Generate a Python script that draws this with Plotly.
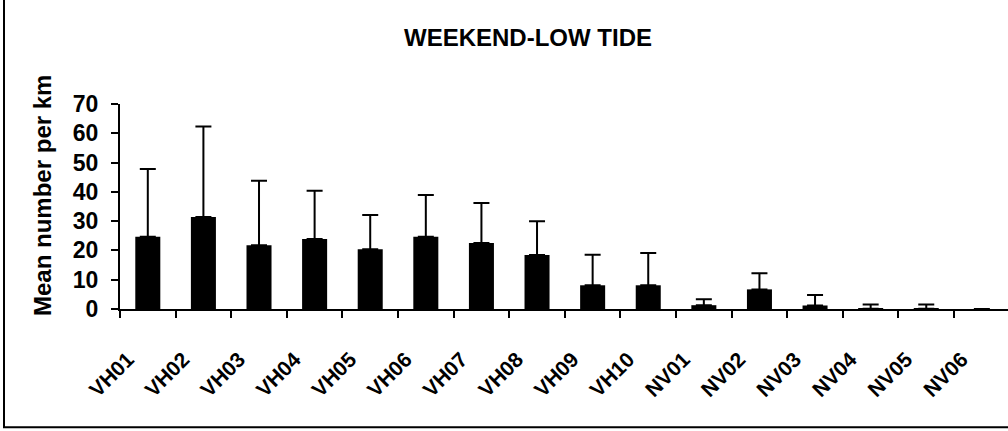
import plotly.graph_objects as go

# Sites surveyed
sites = ["VH01", "VH02", "VH03", "VH04", "VH05", "VH06", "VH07", "VH08",
         "VH09", "VH10", "NV01", "NV02", "NV03", "NV04", "NV05", "NV06"]

# Mean number per km (weekend, low tide)
mean_per_km = [24.7, 31.4, 21.8, 23.9, 20.4, 24.7, 22.5, 18.4,
               8.1, 8.1, 1.3, 6.7, 1.2, 0.1, 0.1, 0.0]

# Upper end of the error bar (mean + SD); None where no bar is drawn
upper = [47.8, 62.3, 43.8, 40.4, 32.1, 38.9, 36.2, 30.0,
         18.5, 19.1, 3.3, 12.2, 4.8, 1.5, 1.5, None]

y_ticks = [0, 10, 20, 30, 40, 50, 60, 70]

err_plus = [None if u is None else u - m for u, m in zip(upper, mean_per_km)]

FONT = "Arial, Liberation Sans, Helvetica, sans-serif"

fig = go.Figure()
fig.add_trace(go.Bar(
    x=sites,
    y=mean_per_km,
    marker=dict(color="black", line=dict(width=0)),
    error_y=dict(type="data", symmetric=False, array=err_plus,
                 arrayminus=[0] * len(sites), color="black",
                 thickness=2, width=8, visible=True),
    width=0.45,
))

L, R, T, B = 120, 0, 104.3, 122.3
W, H = 1008, 431
pw, ph = W - L - R, H - T - B

fig.update_layout(
    width=W, height=H,
    margin=dict(l=L, r=R, t=T, b=B, pad=0),
    paper_bgcolor="white", plot_bgcolor="white",
    showlegend=False,
    font=dict(family=FONT, color="black"),
    xaxis=dict(
        type="category",
        range=[-0.5, 15.47],
        showline=True, linecolor="black", linewidth=2,
        ticks="outside", tickson="boundaries", ticklen=7, tickwidth=2,
        tickcolor="black",
        tickangle=-45,
        tickfont=dict(family=FONT, size=21, color="black", weight="bold"),
        ticklabelshift=-20, ticklabelstandoff=28,
        showgrid=False, zeroline=False,
    ),
    yaxis=dict(
        range=[0, 70],
        tickvals=y_ticks,
        showline=True, linecolor="black", linewidth=2,
        ticks="outside", ticklen=7, tickwidth=2, tickcolor="black",
        tickfont=dict(family=FONT, size=23, color="black", weight="bold"),
        ticklabelstandoff=8,
        showgrid=False, zeroline=False,
    ),
    annotations=[
        dict(text="<b>WEEKEND-LOW TIDE</b>", xref="paper", yref="paper",
             x=(528 - L) / pw, y=(H - B - 38) / ph,
             xanchor="center", yanchor="middle", showarrow=False,
             font=dict(family=FONT, size=24, color="black")),
        dict(text="<b>Mean number per km</b>", xref="paper", yref="paper",
             x=(43 - L) / pw, y=(H - B - 196) / ph, textangle=-90,
             xanchor="center", yanchor="middle", showarrow=False,
             font=dict(family=FONT, size=24, color="black")),
    ],
    shapes=[
        # frame around the chart
        dict(type="rect", xref="paper", yref="paper",
             x0=(4 - L) / pw, x1=(1012 - L) / pw,
             y0=(H - B - 426.7) / ph, y1=(H - B + 3) / ph,
             line=dict(color="black", width=2), fillcolor="rgba(0,0,0,0)",
             layer="above"),
    ],
)

fig.write_html("out.html")
